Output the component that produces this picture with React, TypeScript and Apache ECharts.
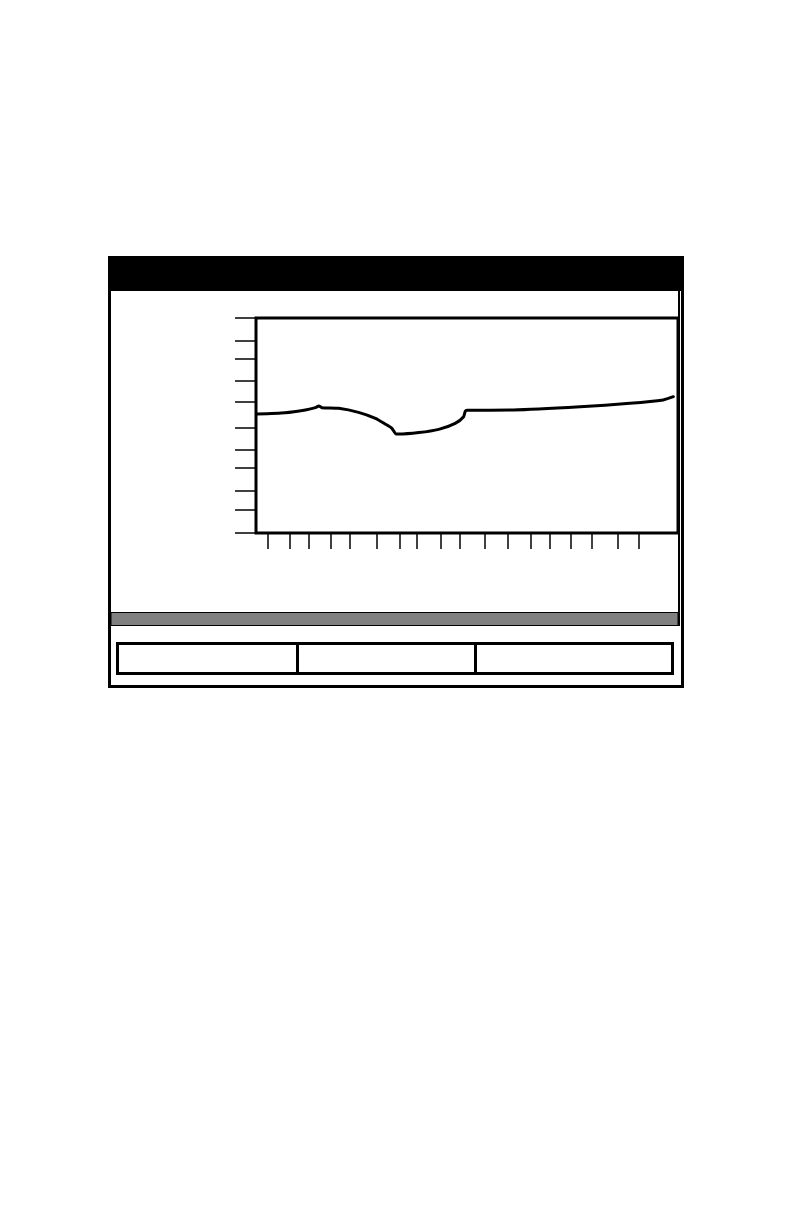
import { useEffect, useRef } from 'react'
import * as echarts from 'echarts'

// y tick positions (hand-drawn, uneven) on a 0..100 scale
const yTicks = [0, 10.7, 19.5, 30.2, 38.6, 48.8, 60.9, 70.7, 80.9, 89.3, 100]
// x tick positions on a 0..100 scale
const xTicks = [2.7, 8.1, 12.4, 17.6, 22.3, 28.7, 34.0, 38.2, 43.7, 48.2, 54.1, 59.6, 65.2, 69.5, 74.5, 79.5, 85.8, 90.8]

const curveX = [0.2, 6.9, 11.7, 14.1, 14.9, 15.6, 19.6, 24.3, 28.3, 30.6, 32.2, 33.2, 33.8, 38.6, 43.3, 47.2, 49.2, 49.6, 50.0, 61.0, 76.8, 88.6, 96.5, 98.9]
const curveY = [55.3, 55.9, 57.2, 58.3, 59.1, 58.3, 58.0, 56.1, 53.3, 50.7, 48.7, 46.0, 46.0, 46.7, 48.2, 51.0, 54.1, 56.7, 57.1, 57.2, 58.7, 60.3, 61.9, 63.4]

export default function App() {
  const rootRef = useRef<HTMLDivElement | null>(null)
  useEffect(() => {
    if (!rootRef.current) return
    const chart = echarts.init(rootRef.current, null, { renderer: 'svg' })
    const black = '#000'
    chart.setOption({
      animation: false,
      backgroundColor: '#fff',
      grid: {
        left: 256, top: 318, width: 422, height: 215,
        show: true, borderColor: black, borderWidth: 3, backgroundColor: '#fff',
      },
      xAxis: {
        type: 'value', min: 0, max: 100,
        axisLine: { show: false },
        axisTick: { show: true, customValues: xTicks, length: 16, lineStyle: { color: black, width: 1.5 } },
        axisLabel: { show: false },
        splitLine: { show: false },
      },
      yAxis: {
        type: 'value', min: 0, max: 100,
        axisLine: { show: false },
        axisTick: { show: true, customValues: yTicks, length: 21, lineStyle: { color: black, width: 1.5 } },
        axisLabel: { show: false },
        splitLine: { show: false },
      },
      series: [{
        type: 'line',
        data: curveX.map((x, i) => [x, curveY[i]]),
        showSymbol: false,
        smooth: 0.2,
        lineStyle: { color: black, width: 3, cap: 'round', join: 'round' },
      }],
      graphic: [
        // window header
        { type: 'rect', shape: { x: 108, y: 256, width: 576, height: 35 }, style: { fill: black } },
        // frame
        { type: 'rect', shape: { x: 108, y: 256, width: 3, height: 432 }, style: { fill: black } },
        { type: 'rect', shape: { x: 681, y: 256, width: 3, height: 432 }, style: { fill: black } },
        { type: 'rect', shape: { x: 108, y: 685, width: 576, height: 3 }, style: { fill: black } },
        { type: 'rect', shape: { x: 678, y: 291, width: 2, height: 335 }, style: { fill: black } },
        // status bar
        { type: 'rect', shape: { x: 111, y: 612.5, width: 567, height: 13 }, style: { fill: '#808080', stroke: black, lineWidth: 1 } },
        // soft keys
        { type: 'rect', shape: { x: 117.5, y: 643.5, width: 555, height: 30 }, style: { fill: 'none', stroke: black, lineWidth: 3 } },
        { type: 'rect', shape: { x: 296, y: 642, width: 3, height: 33 }, style: { fill: black } },
        { type: 'rect', shape: { x: 474, y: 642, width: 3, height: 33 }, style: { fill: black } },
      ],
    })
    return () => { chart.dispose() }
  }, [])

  return <div ref={rootRef} style={{ position: 'fixed', left: 0, top: 0, width: 792, height: 1224 }} />
}
